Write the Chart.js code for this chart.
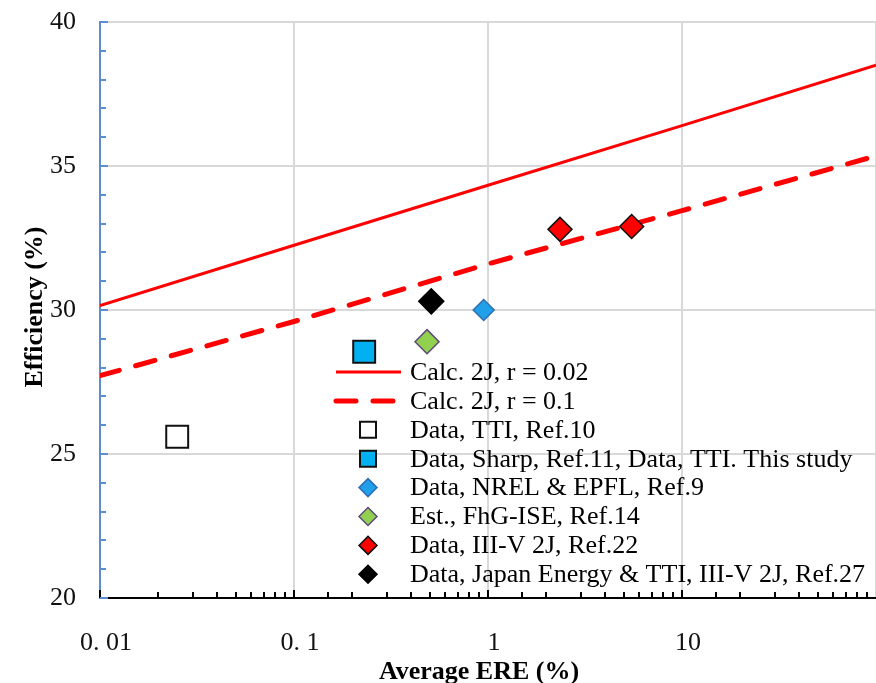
<!DOCTYPE html>
<html>
<head>
<meta charset="utf-8">
<script src="https://cdn.jsdelivr.net/npm/chart.js"></script>
<style>
  html, body { margin: 0; padding: 0; background: #fff; }
  #c { display: block; }
</style>
</head>
<body>
<canvas id="c" width="876" height="683"></canvas>
<script>
// tick labels
var xTickValues = [0.01, 0.1, 1, 10];
var xTickLabels = ['0. 01', '0. 1', '1', '10'];
var yTickValues = [20, 25, 30, 35, 40];
var yTickLabels = ['20', '25', '30', '35', '40'];

// calculated curves
var calcX = [0.01, 0.1, 1, 10, 100];
var calcR002 = [30.15, 32.25, 34.33, 36.4, 38.5];
var calcR01 = [27.72, 29.6, 31.6, 33.45, 35.35];

// measured / estimated points
var ttiX = [0.025], ttiY = [25.6];
var sharpX = [0.23], sharpY = [28.55];
var nrelX = [0.95], nrelY = [30.0];
var fhgX = [0.485], fhgY = [28.9];
var iiivX = [2.35, 5.5], iiivY = [32.8, 32.9];
var jeX = [0.51], jeY = [30.3];

function pts(xs, ys) {
    return xs.map(function (x, i) { return { x: x, y: ys[i] }; });
}
function isMajor(v) {
    var l = Math.log10(v);
    return Math.abs(l - Math.round(l)) < 1e-6;
}

var serif = 'Liberation Serif, Times New Roman, serif';

// inward tick marks, like the original
var tickMarks = {
    id: 'tickMarks',
    afterDatasetsDraw: function (chart) {
        var ctx = chart.ctx, xs = chart.scales.x, ys = chart.scales.y;
        var a = chart.chartArea;
        ctx.save();
        ctx.strokeStyle = '#000';
        ctx.lineWidth = 2;
        xs.ticks.forEach(function (t) {
            var px = Math.round(xs.getPixelForValue(t.value));
            if (px > a.right - 1) return;
            var len = isMajor(t.value) ? 8 : 6;
            ctx.beginPath();
            ctx.moveTo(px, a.bottom);
            ctx.lineTo(px, a.bottom - len);
            ctx.stroke();
        });
        ctx.strokeStyle = '#5b8ed1';
        for (var v = ys.min; v <= ys.max; v++) {
            var py = Math.round(ys.getPixelForValue(v));
            var len = (v % 5 === 0) ? 8 : 6;
            ctx.beginPath();
            ctx.moveTo(a.left, py);
            ctx.lineTo(a.left + len, py);
            ctx.stroke();
        }
        ctx.restore();
    }
};

// axis titles
var axisTitles = {
    id: 'axisTitles',
    afterDraw: function (chart) {
        var ctx = chart.ctx;
        ctx.save();
        ctx.fillStyle = '#000';
        ctx.font = 'bold 26px ' + serif;
        ctx.textAlign = 'center';
        ctx.textBaseline = 'alphabetic';
        ctx.fillText('Average ERE (%)', 479, 679);
        ctx.translate(42, 307);
        ctx.rotate(-Math.PI / 2);
        ctx.fillText('Efficiency (%)', 0, 0);
        ctx.restore();
    }
};

// legend inside the plot
var legendBox = {
    id: 'legendBox',
    afterDraw: function (chart) {
        var ctx = chart.ctx;
        ctx.save();
        ctx.font = '26px ' + serif;
        ctx.textBaseline = 'middle';
        ctx.textAlign = 'left';
        chart.data.datasets.forEach(function (ds, i) {
            var y = 372 + i * 28.9;
            if (ds.showLine) {
                ctx.strokeStyle = ds.borderColor;
                ctx.lineWidth = ds.borderWidth;
                ctx.lineCap = ds.borderCapStyle || 'butt';
                ctx.setLineDash(ds.borderDash || []);
                ctx.beginPath();
                ctx.moveTo(336, y);
                ctx.lineTo(401, y);
                ctx.stroke();
                ctx.setLineDash([]);
            } else {
                ctx.fillStyle = ds.backgroundColor;
                ctx.strokeStyle = ds.borderColor;
                ctx.lineWidth = ds.borderWidth;
                ctx.beginPath();
                if (ds.pointStyle === 'rect') {
                    ctx.rect(368 - 8, y - 8, 16, 16);
                } else {
                    ctx.moveTo(368, y - 9);
                    ctx.lineTo(377, y);
                    ctx.lineTo(368, y + 9);
                    ctx.lineTo(359, y);
                    ctx.closePath();
                }
                ctx.fill();
                ctx.stroke();
            }
            ctx.fillStyle = '#000';
            ctx.fillText(ds.label, 410, y + 1);
        });
        ctx.restore();
    }
};

var chart = new Chart(document.getElementById('c'), {
    type: 'scatter',
    data: {
        datasets: [
            {
                label: 'Calc. 2J, r = 0.02',
                data: pts(calcX, calcR002),
                showLine: true, pointRadius: 0, order: 1,
                borderColor: '#ff0000', borderWidth: 3
            },
            {
                label: 'Calc. 2J, r = 0.1',
                data: pts(calcX, calcR01),
                showLine: true, pointRadius: 0, order: 1,
                borderColor: '#ff0000', borderWidth: 5,
                borderDash: [20, 17], borderCapStyle: 'round'
            },
            {
                label: 'Data, TTI, Ref.10',
                data: pts(ttiX, ttiY),
                pointStyle: 'rect', pointRadius: 15.5, order: 0,
                backgroundColor: '#ffffff', borderColor: '#111', borderWidth: 2
            },
            {
                label: 'Data, Sharp, Ref.11, Data, TTI. This study',
                data: pts(sharpX, sharpY),
                pointStyle: 'rect', pointRadius: 15.5, order: 0,
                backgroundColor: '#00b0f0', borderColor: '#111', borderWidth: 2
            },
            {
                label: 'Data, NREL & EPFL, Ref.9',
                data: pts(nrelX, nrelY),
                pointStyle: 'rectRot', pointRadius: 10.5, order: 0,
                backgroundColor: '#1fa0e8', borderColor: '#2f6eb5', borderWidth: 1.5
            },
            {
                label: 'Est., FhG-ISE, Ref.14',
                data: pts(fhgX, fhgY),
                pointStyle: 'rectRot', pointRadius: 12, order: 0,
                backgroundColor: '#92d050', borderColor: '#60497a', borderWidth: 1.5
            },
            {
                label: 'Data, III-V 2J, Ref.22',
                data: pts(iiivX, iiivY),
                pointStyle: 'rectRot', pointRadius: 12, order: 0,
                backgroundColor: '#ff0000', borderColor: '#111', borderWidth: 1.5
            },
            {
                label: 'Data, Japan Energy & TTI, III-V 2J, Ref.27',
                data: pts(jeX, jeY),
                pointStyle: 'rectRot', pointRadius: 12.5, order: 0,
                backgroundColor: '#000000', borderColor: '#000', borderWidth: 1.5
            }
        ]
    },
    options: {
        responsive: false,
        animation: false,
        layout: { autoPadding: false, padding: { top: 22, right: 0, left: 0, bottom: 0 } },
        plugins: { legend: { display: false }, tooltip: { enabled: false } },
        elements: { line: { tension: 0 } },
        scales: {
            x: {
                type: 'logarithmic',
                min: 0.01,
                max: 100,
                afterFit: function (s) {
                    s.height = 85;
                    s.paddingLeft = 0;
                    s.paddingRight = 0;
                },
                border: { color: '#000', width: 2 },
                grid: {
                    drawTicks: false,
                    lineWidth: 2,
                    color: function (c) {
                        return c.tick && isMajor(c.tick.value) ? '#d9d9d9' : 'rgba(0,0,0,0)';
                    }
                },
                ticks: {
                    autoSkip: false,
                    maxRotation: 0,
                    padding: 30,
                    labelOffset: 6,
                    color: '#111',
                    font: { family: serif, size: 26 },
                    callback: function (v) {
                        for (var i = 0; i < xTickValues.length; i++) {
                            if (Math.abs(v / xTickValues[i] - 1) < 1e-6) return xTickLabels[i];
                        }
                        return '';
                    }
                }
            },
            y: {
                min: 20,
                max: 40,
                afterFit: function (s) {
                    s.width = 100;
                    s.paddingTop = 0;
                    s.paddingBottom = 0;
                },
                border: { color: '#5b8ed1', width: 2 },
                grid: { drawTicks: false, lineWidth: 2, color: '#d9d9d9' },
                ticks: {
                    stepSize: 5,
                    padding: 24,
                    color: '#111',
                    font: { family: serif, size: 26 },
                    callback: function (v) {
                        var i = yTickValues.indexOf(v);
                        return i >= 0 ? yTickLabels[i] : '';
                    }
                }
            }
        }
    },
    plugins: [tickMarks, axisTitles, legendBox]
});
</script>
</body>
</html>
